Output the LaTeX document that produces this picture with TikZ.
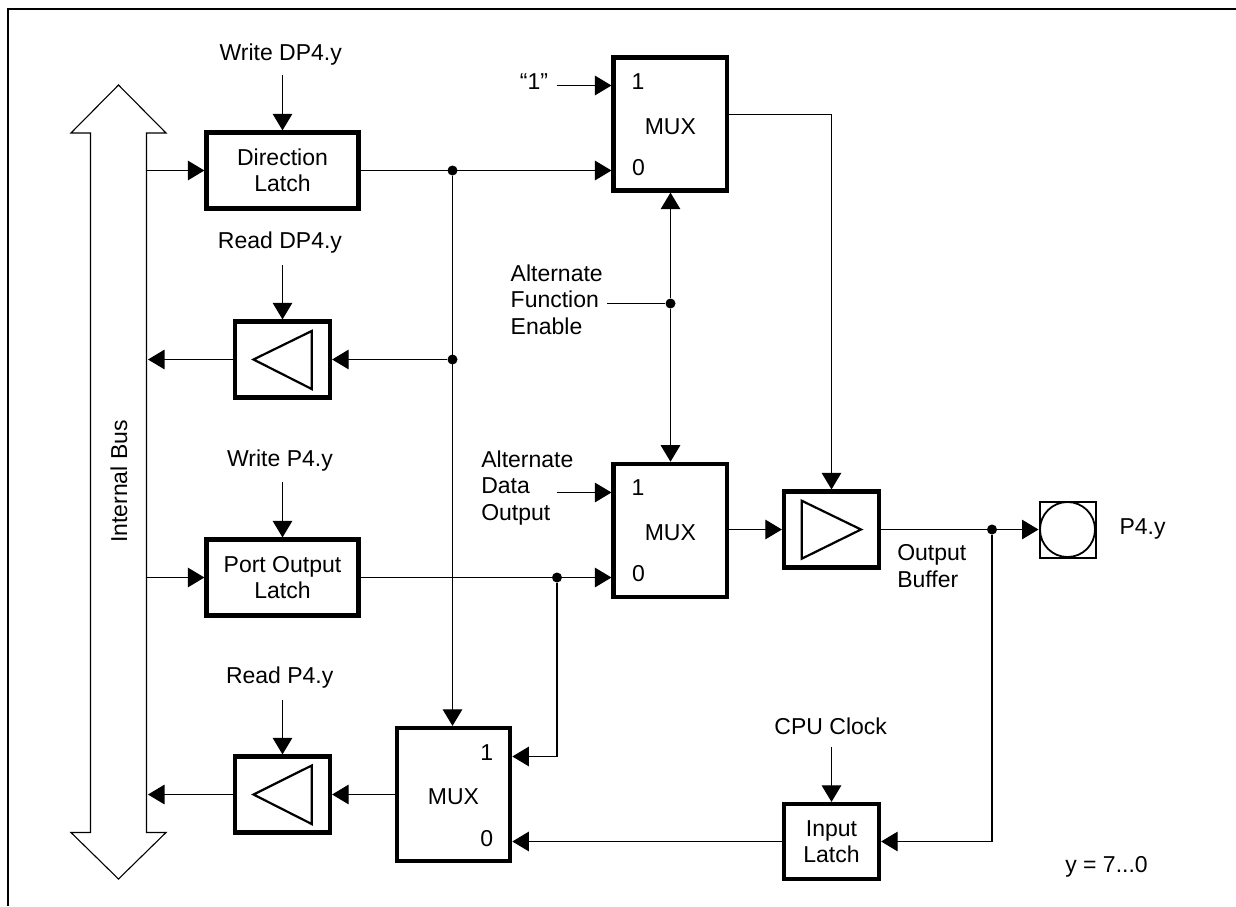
\documentclass[tikz,border=0pt]{standalone}
\usepackage{fontspec}
\setmainfont{Liberation Sans}
\usetikzlibrary{arrows.meta,calc}
\tikzset{
  x=1pt,y=-1pt,
  wire/.style={line width=1.1pt,line join=miter},
  arr/.style={wire,-{Triangle[length=16.5pt,width=19.5pt]}},
  box/.style={draw,line width=4.2pt,rectangle,inner sep=0pt,align=center,fill=none},
  buf/.style={box,minimum width=95pt,minimum height=76pt},
  latch/.style={box,minimum width=152pt,minimum height=76pt},
  muxbox/.style={box,minimum width=113.5pt,minimum height=133pt,text height=20pt,text depth=0pt},
  tri/.style={draw,line width=2.2pt,line join=miter},
  lbl/.style={inner sep=0pt,outer sep=0pt,anchor=base,text depth=0pt},
  block/.style={inner sep=0pt,outer sep=0pt,anchor=west,align=left},
  dot/.style={circle,fill=black,draw=none,minimum size=10pt,inner sep=0pt},
  busline/.style={line width=1.1pt,line join=miter,fill=white},
  frameline/.style={line width=2pt},
}
\begin{document}
\begin{tikzpicture}[font=\fontsize{23}{26.5}\selectfont]
\useasboundingbox (0,0) rectangle (1236,906);
\draw[frameline] (7.7,906) -- (7.7,9) -- (1236,9);

% internal bus
\coordinate (busa) at (146.5,133);
\coordinate (busb) at (146.5,832.5);
\draw[busline] (118.5,85) -- (166,133) -- (busa) -- (busb) -- (166,832.5) -- (118.5,879)
  -- (71,832.5) -- (90.5,832.5) -- (90.5,133) -- (71,133) -- cycle;
\node[lbl,rotate=90] (busl) at (127,481.5) {Internal Bus};

% blocks
\node[latch] (dl) at (282.5,170.5) {Direction\\Latch};
\node[latch] (pl) at (282.5,577.5) {Port Output\\Latch};
\node[buf] (rd) at (282.5,359.5) {};
\node[buf] (rp) at (282.5,794.5) {};
\node[buf] (ob) at (831.5,529.5) {};
\node[box,minimum width=95pt,minimum height=75pt] (il) at (831.5,841.5) {Input\\Latch};
\node[muxbox] (m1) at (670.3,124) {MUX};
\node[muxbox] (m2) at (670.3,530.3) {MUX};
\node[muxbox,minimum height=133pt] (m3) at (453.5,794.5) {MUX};
\draw[tri] (253.5,359.5) -- (311.7,331) -- (311.7,389) -- cycle;
\draw[tri] (253.5,794.5) -- (311.7,765.5) -- (311.7,824) -- cycle;
\draw[tri] (861,529.5) -- (801.7,500.7) -- (801.7,558.7) -- cycle;
\node[draw,line width=2pt,minimum size=56pt,inner sep=0pt] (pad) at (1067.5,529.5) {};
\node[draw,circle,line width=1.8pt,minimum size=55pt,inner sep=0pt] (padc) at (1067.5,529.5) {};

% mux pin numbers
\node[lbl] (m1p1) at (638,89) {1};
\node[lbl] (m1p0) at (638.5,175) {0};
\node[lbl] (m2p1) at (638,495) {1};
\node[lbl] (m2p0) at (638.5,581.7) {0};
\node[lbl] (m3p1) at (486.7,760) {1};
\node[lbl] (m3p0) at (486.7,846) {0};

% signal labels
\node[lbl] (wdp) at (280.7,60.7) {Write DP4.y};
\node[lbl] (rdp) at (280,248) {Read DP4.y};
\node[lbl] (wp) at (280,466.7) {Write P4.y};
\node[lbl] (rpl) at (279.7,683) {Read P4.y};
\node[lbl] (cpu) at (830.7,734.7) {CPU Clock};
\node[lbl] (one) at (534,89) {“1”};
\node[block] (afe) at (510.7,299.5) {Alternate\\Function\\Enable};
\node[block] (ado) at (481.3,488) {Alternate\\Data\\Output};
\node[block] (obl) at (897.3,566) {Output\\Buffer};
\node[lbl] (p4) at (1142.5,534) {P4.y};
\node[lbl] (yr) at (1106.5,872.7) {y = 7...0};

% junctions
\node[dot] (j1) at (452.5,170.5) {};
\node[dot] (j2) at (452.5,359.5) {};
\node[dot] (j3) at (670.5,303.5) {};
\node[dot] (j4) at (557,577.5) {};
\node[dot] (j5) at (992,529.5) {};

% free ends
\coordinate (onestart) at (556.7,85.5);
\coordinate (afestart) at (607,303.5);
\coordinate (adostart) at (557,492.5);
\coordinate (m3in1) at (557,756.5);
\coordinate (m1out) at (831.5,114.5);
\coordinate (ilin) at (992,841.5);

% control inputs
\draw[arr,shorten <=14.3pt] (wdp.south -| dl.north) -- (dl.north);
\draw[arr,shorten <=17pt] (rdp.south -| rd.north) -- (rd.north);
\draw[arr,shorten <=15.3pt] (wp.south -| pl.north) -- (pl.north);
\draw[arr,shorten <=17pt] (rpl.south -| rp.north) -- (rp.north);
\draw[arr,shorten <=12pt] (cpu.south -| il.north) -- (il.north);

% bus connections
\draw[arr] (busa |- dl.west) -- (dl.west);
\draw[arr] (busa |- pl.west) -- (pl.west);
\draw[arr,shorten >=1.5pt] (rd.west) -- (busa |- rd.west);
\draw[arr,shorten >=1.5pt] (rp.west) -- (busa |- rp.west);

% direction path
\draw[arr] (dl.east) -- (dl.east -| m1.west);
\draw[arr] (onestart) -- (onestart -| m1.west);
\draw[arr] (j2) -- (rd.east);
\draw[arr] (j1) -- (j1 |- m3.north);
\draw[arr] (rp.east -| m3.west) -- (rp.east);

% alternate function
\draw[wire] (afestart) -- (j3);
\draw[arr] (j3) -- (j3 |- m1.south);
\draw[arr] (j3) -- (j3 |- m2.north);
\draw[arr] (adostart) -- (adostart -| m2.west);

% port output
\draw[arr] (pl.east) -- (pl.east -| m2.west);
\draw[arr] (j4) -- (m3in1) -- (m3in1 -| m3.east);
\draw[arr] (ob.west -| m2.east) -- (ob.west);

% mux1 to output buffer enable
\draw[arr] (m1out -| m1.east) -- (m1out) -- (ob.north);

% output
\draw[arr] (ob.east) -- (ob.east -| pad.west);
\draw[arr] (j5) -- (ilin) -- (il.east);
\draw[arr] (il.west) -- (il.west -| m3.east);
\end{tikzpicture}
\end{document}
